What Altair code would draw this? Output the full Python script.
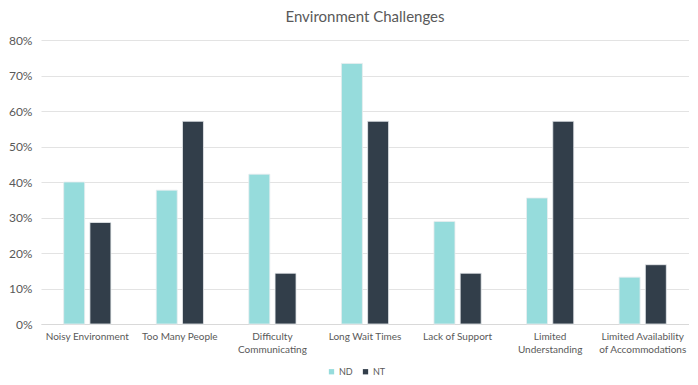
import altair as alt
import pandas as pd

categories = ["Noisy Environment", "Too Many People", "Difficulty Communicating",
              "Long Wait Times", "Lack of Support", "Limited Understanding",
              "Limited Availability of Accommodations"]
groups = ["ND", "NT"]
nd_values = [0.40, 0.377, 0.422, 0.734, 0.289, 0.355, 0.132]
nt_values = [0.286, 0.571, 0.143, 0.571, 0.143, 0.571, 0.167]

rows = []
for c, a, b in zip(categories, nd_values, nt_values):
    rows.append({"category": c, "group": "ND", "value": a})
    rows.append({"category": c, "group": "NT", "value": b})
df = pd.DataFrame(rows)

font = "Lato"
grey = "#595959"

label_expr = (
    "datum.label == 'Difficulty Communicating' ? ['Difficulty', 'Communicating'] : "
    "datum.label == 'Limited Understanding' ? ['Limited', 'Understanding'] : "
    "datum.label == 'Limited Availability of Accommodations' ? ['Limited Availability', 'of Accommodations'] : "
    "datum.label"
)

chart = alt.Chart(df).mark_bar(stroke="#e8ecef", strokeWidth=0.8).encode(
    x=alt.X("category:N", sort=categories, title=None,
            scale=alt.Scale(paddingInner=0.49, paddingOuter=0.245),
            axis=alt.Axis(labelAngle=0, labelExpr=label_expr, labelFont=font,
                          labelFontSize=10, labelColor=grey, ticks=False,
                          domainColor="#d9d9d9", labelPadding=7, labelLineHeight=13)),
    xOffset=alt.XOffset("group:N", sort=groups,
                        scale=alt.Scale(paddingInner=0.2, paddingOuter=0)),
    y=alt.Y("value:Q", title=None,
            scale=alt.Scale(domain=[0, 0.8]),
            axis=alt.Axis(format=".0%", values=[0, 0.1, 0.2, 0.3, 0.4, 0.5, 0.6, 0.7, 0.8],
                          labelFont=font, labelFontSize=12, labelColor=grey,
                          ticks=False, domain=False, gridColor="#e3e3e3",
                          minExtent=32, maxExtent=32, labelPadding=9)),
    color=alt.Color("group:N", sort=groups,
                    scale=alt.Scale(domain=groups, range=["#96dcdc", "#323e4a"]),
                    legend=alt.Legend(title=None, orient="none", direction="horizontal",
                                      legendX=286, legendY=327,
                                      symbolType="square", symbolSize=28,
                                      labelFont=font, labelFontSize=9, labelColor=grey,
                                      symbolStrokeWidth=0, columnPadding=8, labelOffset=3)),
).properties(
    width=648, height=284,
    padding={"left": 0, "top": 2, "right": 0, "bottom": 0},
    title=alt.Title("Environment Challenges", font=font, fontSize=15, color=grey,
                    fontWeight="normal", anchor="middle", offset=9),
).configure_view(stroke=None)

chart.save("out.html", embed_options={"renderer": "svg", "actions": False})
